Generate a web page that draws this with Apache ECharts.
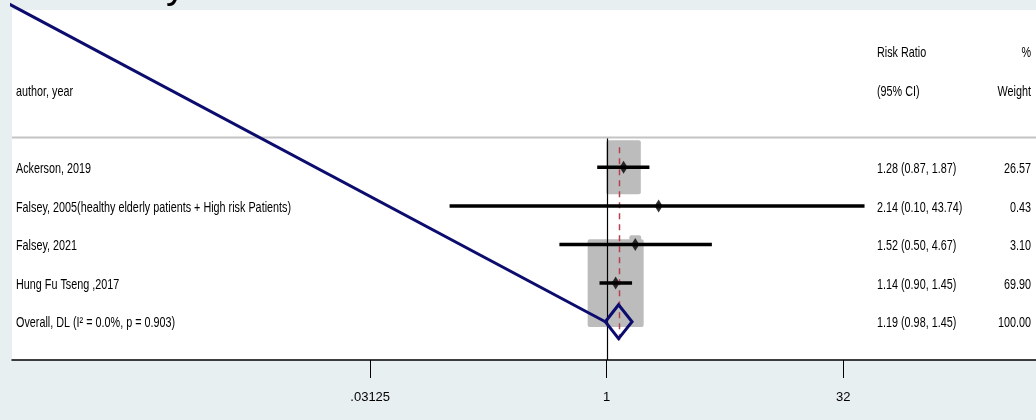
<!DOCTYPE html>
<html>
<head>
<meta charset="utf-8">
<script src="https://cdn.jsdelivr.net/npm/echarts@6/dist/echarts.min.js"></script>
<style>
  html, body { margin: 0; padding: 0; background: #e8eff1; }
  #chart { width: 1036px; height: 420px; }
</style>
</head>
<body>
<div id="chart"></div>
<script>
// study data
var studies = ['Ackerson, 2019', 'Falsey, 2005(healthy elderly patients + High risk Patients)', 'Falsey, 2021', 'Hung Fu Tseng ,2017'];
var rr = [1.28, 2.14, 1.52, 1.14];
var lower = [0.87, 0.10, 0.50, 0.90];
var upper = [1.87, 43.74, 4.67, 1.45];
var weights = [26.57, 0.43, 3.10, 69.90];

// pooled estimate
var overallLabel = 'Overall, DL (I² = 0.0%, p = 0.903)';
var overallRR = 1.19;
var overallLower = 0.98;
var overallUpper = 1.45;
var overallWeight = 100.00;

// axis ticks (risk ratio, log2 scale)
var tickValues = [0.03125, 1, 32];

// stray line in the picture: from off the top-left corner to the overall diamond
var strayStart = [0.000137, -4.36];

var FONT = '"Liberation Sans", Arial, sans-serif';
var SQUEEZE = 0.72;   // the source text is horizontally condensed
var log2 = function (v) { return Math.log(v) / Math.LN2; };

var rows = studies.map(function (s, i) { return i; });
var overallRow = studies.length;

var myChart = echarts.init(document.getElementById('chart'));

var option = {
    backgroundColor: '#e8eff1',
    animation: false,
    grid: {
        left: 12, right: 0, top: 10, bottom: 60,
        show: true, backgroundColor: '#ffffff', borderWidth: 0
    },
    xAxis: {
        type: 'value',
        min: -12.573,
        max: 9.076,
        splitLine: { show: false },
        axisLine: { onZero: false, lineStyle: { color: '#000', width: 1.5 } },
        axisTick: {
            customValues: tickValues.map(log2),
            length: 18,
            lineStyle: { color: '#000', width: 1 }
        },
        axisLabel: {
            customValues: tickValues.map(log2),
            margin: 31,
            color: '#000',
            fontFamily: FONT,
            fontSize: 13,
            formatter: function (v) {
                var n = Math.pow(2, v);
                var s = String(Math.round(n * 100000) / 100000);
                return s.replace(/^0\./, '.');
            }
        }
    },
    yAxis: {
        type: 'value',
        inverse: true,
        min: -4.075,
        max: 4.992,
        show: false
    },
    graphic: [
        {
            type: 'text', left: 166, top: -33, silent: true,
            style: { text: 'y', fontSize: 40, fontFamily: FONT, fill: '#000' }
        }
    ],
    series: [
        // weight boxes
        {
            type: 'custom',
            z: 1,
            data: rows.map(function (i) { return [log2(rr[i]), i, weights[i]]; }),
            renderItem: function (params, api) {
                var c = api.coord([api.value(0), api.value(1)]);
                var s = Math.sqrt(api.value(2));
                var w = 6.7 * s, h = 10.5 * s;
                return {
                    type: 'rect',
                    shape: { x: c[0] - w / 2, y: c[1] - h / 2, width: w, height: h, r: 2 },
                    style: { fill: '#bcbcbc' }
                };
            }
        },
        // null line and pooled (dashed) line
        {
            type: 'custom',
            z: 2,
            data: [[0, -0.77, 4.992, 0], [log2(overallRR), -0.52, 4.52, 1]],
            renderItem: function (params, api) {
                var a = api.coord([api.value(0), api.value(1)]);
                var b = api.coord([api.value(0), api.value(2)]);
                var dashed = api.value(3) === 1;
                return {
                    type: 'line',
                    shape: { x1: Math.round(a[0]) + 0.5, y1: a[1], x2: Math.round(b[0]) + 0.5, y2: b[1] },
                    style: dashed ? { stroke: '#b5404f', lineWidth: 1.5, lineDash: [6, 5] }
                                  : { stroke: '#000', lineWidth: 1.2 }
                };
            }
        },
        // confidence intervals
        {
            type: 'custom',
            z: 3,
            data: rows.map(function (i) { return [log2(lower[i]), log2(upper[i]), i]; }),
            renderItem: function (params, api) {
                var a = api.coord([api.value(0), api.value(2)]);
                var b = api.coord([api.value(1), api.value(2)]);
                return {
                    type: 'line',
                    shape: { x1: a[0], y1: a[1], x2: b[0], y2: b[1] },
                    style: { stroke: '#000', lineWidth: 3.5 }
                };
            }
        },
        // point estimates
        {
            type: 'scatter',
            z: 4,
            symbol: 'diamond',
            symbolSize: [8, 13],
            itemStyle: { color: '#000' },
            data: rows.map(function (i) { return [log2(rr[i]), i]; })
        },
        // overall diamond
        {
            type: 'custom',
            z: 5,
            data: [[log2(overallLower), log2(overallRR), log2(overallUpper), overallRow]],
            renderItem: function (params, api) {
                var r = api.value(3);
                var l = api.coord([api.value(0), r]);
                var m = api.coord([api.value(1), r]);
                var rt = api.coord([api.value(2), r]);
                var top = api.coord([api.value(1), r - 0.44]);
                var bot = api.coord([api.value(1), r + 0.44]);
                return {
                    type: 'polygon',
                    shape: { points: [l, [m[0], top[1]], rt, [m[0], bot[1]]] },
                    style: { fill: 'none', stroke: '#0c0c6e', lineWidth: 3 }
                };
            }
        },
        // stray navy line
        {
            type: 'line',
            z: 5,
            clip: false,
            symbol: 'none',
            lineStyle: { color: '#0c0c6e', width: 3 },
            data: [[log2(strayStart[0]), strayStart[1]], [log2(overallLower), overallRow]]
        },
        // separator under header
        {
            type: 'custom',
            z: 2,
            data: [[0, -0.77]],
            renderItem: function (params, api) {
                var y = api.coord([0, api.value(1)])[1];
                return {
                    type: 'line',
                    shape: { x1: 12, y1: y, x2: 1036, y2: y },
                    style: { stroke: '#c4c4c4', lineWidth: 2 }
                };
            }
        },
        // text columns
        {
            type: 'custom',
            z: 6,
            data: [[0, -3], [0, -2]].concat(rows.map(function (i) { return [0, i]; })).concat([[0, overallRow]]),
            renderItem: function (params, api) {
                var row = api.value(1);
                var y = api.coord([0, row])[1] + 1.5;
                var st = function (t, x, align) {
                    return {
                        type: 'text',
                        x: x, y: y, scaleX: SQUEEZE,
                        style: {
                            text: t, x: 0, y: 0, align: align, verticalAlign: 'middle',
                            fill: '#000', font: '15px ' + FONT
                        }
                    };
                };
                var kids = [];
                if (row === -3) {
                    kids.push(st('Risk Ratio', 877, 'left'), st('%', 1031, 'right'));
                } else if (row === -2) {
                    kids.push(st('author, year', 16, 'left'), st('(95% CI)', 877, 'left'), st('Weight', 1031, 'right'));
                } else if (row === overallRow) {
                    kids.push(st(overallLabel, 16, 'left'),
                        st(overallRR.toFixed(2) + ' (' + overallLower.toFixed(2) + ', ' + overallUpper.toFixed(2) + ')', 877, 'left'),
                        st(overallWeight.toFixed(2), 1031, 'right'));
                } else {
                    kids.push(st(studies[row], 16, 'left'),
                        st(rr[row].toFixed(2) + ' (' + lower[row].toFixed(2) + ', ' + upper[row].toFixed(2) + ')', 877, 'left'),
                        st(weights[row].toFixed(2), 1031, 'right'));
                }
                return { type: 'group', children: kids };
            }
        }
    ]
};

myChart.setOption(option);
</script>
</body>
</html>
